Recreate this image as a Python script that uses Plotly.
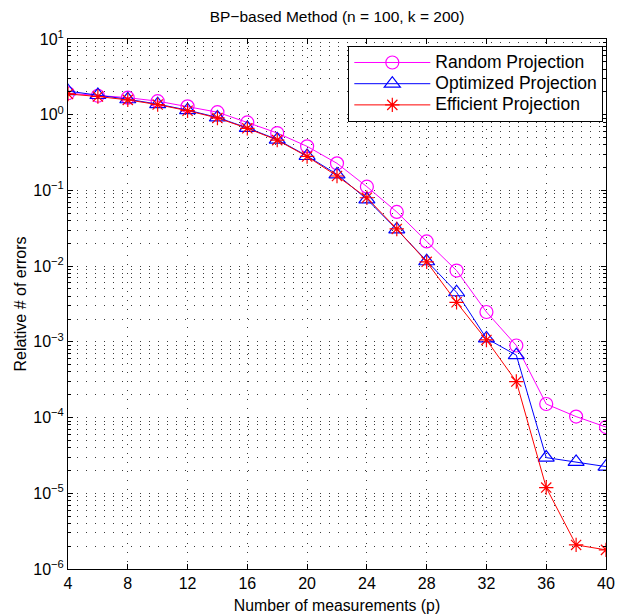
import plotly.graph_objects as go

p = [4, 6, 8, 10, 12, 14, 16, 18, 20, 22, 24, 26, 28, 30, 32, 34, 36, 38, 40]
random_proj = [1.92, 1.78, 1.68, 1.51, 1.29, 1.08, 0.79, 0.573, 0.382, 0.228,
               0.112, 0.052, 0.0212, 0.00875, 0.00248, 0.000895, 0.000151, 0.000103, 0.000075]
optimized_proj = [2.05, 1.82, 1.60, 1.38, 1.15, 0.92, 0.67, 0.47, 0.285, 0.163,
                  0.0764, 0.0305, 0.0116, 0.00452, 0.00111, 0.000667, 0.0000296, 0.000026, 0.0000225]
efficient_proj = [1.88, 1.74, 1.57, 1.36, 1.13, 0.906, 0.661, 0.462, 0.281, 0.155,
                  0.080, 0.031, 0.0114, 0.00333, 0.00106, 0.000299, 0.0000119, 0.00000208, 0.00000179]

series_names = ["Random Projection", "Optimized Projection", "Efficient Projection"]
x_ticks = [4, 8, 12, 16, 20, 24, 28, 32, 36, 40]
y_tickvals = [1e-6, 1e-5, 1e-4, 1e-3, 1e-2, 1e-1, 1e0, 1e1]
y_ticktext = ["10<sup>\u22126</sup>", "10<sup>\u22125</sup>", "10<sup>\u22124</sup>", "10<sup>\u22123</sup>",
              "10<sup>\u22122</sup>", "10<sup>\u22121</sup>", "10<sup>0</sup>", "10<sup>1</sup>"]

FONT = "Liberation Sans, Arial, Helvetica, sans-serif"
GRID = "#3a3a3a"
DASH = "1px,8px"


def legend_name(s):
    return '<span style="font-size:17.5px">' + s + '</span>'


fig = go.Figure()
fig.add_trace(go.Scatter(x=p, y=random_proj, mode="lines+markers", name=legend_name(series_names[0]),
                         line=dict(color="#FF00FF", width=1),
                         marker=dict(symbol="circle-open", size=13, color="#FF00FF", line=dict(width=1.2))))
fig.add_trace(go.Scatter(x=p, y=optimized_proj, mode="lines+markers", name=legend_name(series_names[1]),
                         line=dict(color="#0000FF", width=1),
                         marker=dict(symbol="triangle-up-open", size=14, color="#0000FF", line=dict(width=1.2))))
fig.add_trace(go.Scatter(x=p, y=efficient_proj, mode="lines+markers", name=legend_name(series_names[2]),
                         line=dict(color="#FF0000", width=1),
                         marker=dict(symbol="asterisk-open", size=12, color="#FF0000", line=dict(width=1.2))))

fig.update_layout(
    width=623, height=615,
    margin=dict(l=55, r=25, t=31, b=50),
    paper_bgcolor="white", plot_bgcolor="white",
    font=dict(family=FONT, size=15, color="black"),
    title=dict(text="BP\u2212based Method (n = 100, k = 200)", x=0.5, xref="paper", xanchor="center",
               y=1 - 3 / 615, yanchor="top", font=dict(size=15.5, color="black")),
    showlegend=True,
    legend=dict(x=0.995, y=0.987, xanchor="right", yanchor="top",
                bgcolor="white", bordercolor="black", borderwidth=1,
                font=dict(size=14, color="black"), itemwidth=76,
                tracegroupgap=0),
)
fig.update_xaxes(
    range=[4, 40], tickvals=x_ticks, ticktext=[str(v) for v in x_ticks],
    ticks="inside", ticklen=5, tickcolor="black", showline=True, linecolor="black", linewidth=1,
    mirror="ticks", showgrid=True, gridcolor=GRID, griddash=DASH, gridwidth=1, zeroline=False,
    title=dict(text="Number of measurements (p)", standoff=8, font=dict(size=15.8)),
    tickfont=dict(size=16),
)
fig.update_yaxes(
    type="log", range=[-6, 1], tickvals=y_tickvals, ticktext=y_ticktext,
    ticks="inside", ticklen=5, tickcolor="black", showline=True, linecolor="black", linewidth=1,
    mirror="ticks", showgrid=True, gridcolor=GRID, griddash=DASH, gridwidth=1, zeroline=False,
    minor=dict(dtick="D1", ticks="inside", ticklen=3, tickcolor="black",
               showgrid=True, gridcolor=GRID, griddash=DASH, gridwidth=1),
    title=dict(text="Relative # of errors", standoff=2, font=dict(size=16)),
    tickfont=dict(size=16),
)

fig.write_html("out.html")
